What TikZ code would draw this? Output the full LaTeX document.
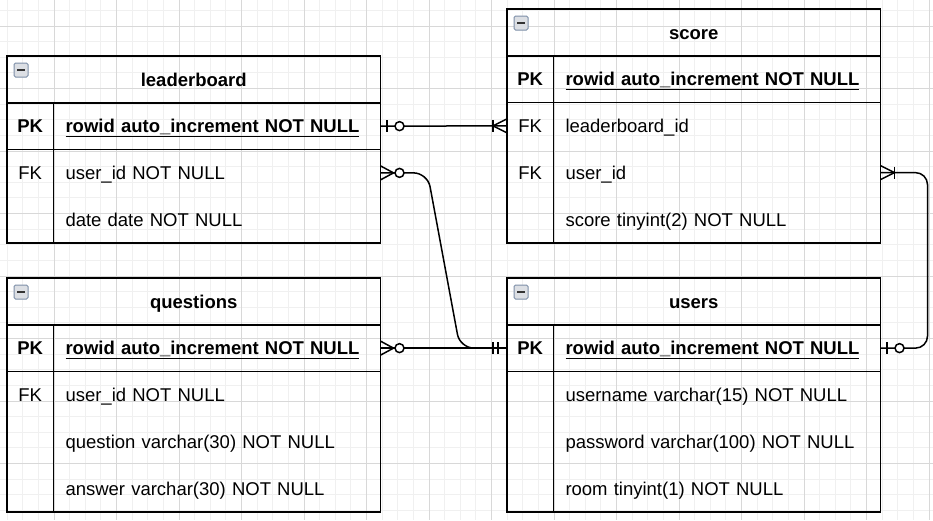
\documentclass[tikz,border=0pt]{standalone}
\usepackage{fontspec}
\setmainfont{Liberation Sans}
\usepackage{tikz}
\usetikzlibrary{positioning}
\usetikzlibrary{calc}
\definecolor{gridminor}{HTML}{F0F0F0}
\definecolor{gridmajor}{HTML}{D8D8D8}
\definecolor{iconedge}{HTML}{7D8FA8}
\definecolor{iconfill}{HTML}{DCDFE4}
\newcommand{\erfont}{\fontsize{18.5pt}{22pt}\selectfont}
\tikzset {
  % table parts
  title/.style = {minimum width=373.5pt, minimum height=46.75pt, inner sep=0pt, outer sep=0pt,
    text height=15.5pt, text depth=2pt, font=\erfont\bfseries},
  key/.style = {minimum width=46.5pt, minimum height=46.75pt, inner sep=0pt, outer sep=0pt,
    text height=15.5pt, text depth=2pt, font=\erfont},
  pkey/.style = {key, font=\erfont\bfseries},
  field/.style = {text width=303pt, inner xsep=12pt, inner ysep=0pt, minimum height=46.75pt,
    outer sep=0pt, align=left, text height=15.5pt, text depth=2pt, font=\erfont},
  pfield/.style = {field, font=\erfont\bfseries},
  tbl/.style = {line width=1.5pt},
  % relations
  rel/.style = {line width=1.5pt},
  zeroone/.pic = {\draw[rel] (6.5,-6) -- (6.5,6); \draw[rel, fill=white] (19,0) circle (4.5);},
  zeromany/.pic = {\draw[rel] (0,-7) -- (13,0) -- (0,7); \draw[rel, fill=white] (19,0) circle (4.5);},
  onemany/.pic = {\draw[rel] (0,-7) -- (14,0) -- (0,7); \draw[rel] (14,-6) -- (14,6);},
  mandone/.pic = {\draw[rel] (9,-6) -- (9,6) (14,-6) -- (14,6);},
  % collapse icon
  minusbox/.pic = {\draw[iconedge, fill=iconfill, line width=1pt, rounded corners=1.5pt] (7,7) rectangle (21,21);
    \draw[line width=2.2pt, black!80] (10,14) -- (18,14);},
}
\begin{document}
\begin{tikzpicture}[x=1pt, y=-1pt]
  \useasboundingbox (0,0) rectangle (933,520);
  \begin{scope}
    \clip (0,0) rectangle (933,520);
    \fill[white] (0,0) rectangle (933,520);
    \foreach \i in {0,...,60} \draw[gridminor, line width=0.8pt] ({-8.5+15.625*\i},0) -- ++(0,520);
    \foreach \j in {0,...,34} \draw[gridminor, line width=0.8pt] (0,{-5.25+15.625*\j}) -- ++(933,0);
    \foreach \i in {0,...,15} \draw[gridmajor, line width=0.8pt] ({-8.5+62.5*\i},0) -- ++(0,520);
    \foreach \j in {0,...,9} \draw[gridmajor, line width=0.8pt] (0,{-36.5+62.5*\j}) -- ++(933,0);
  \end{scope}

  % leaderboard
  \node[title, anchor=north west] (lbh) at (7,56) {leaderboard};
  \node[pkey, below=0pt of lbh.south west, anchor=north west] (lbk1) {PK};
  \node[key, below=0pt of lbk1] (lbk2) {FK};
  \node[key, below=0pt of lbk2] (lbk3) {};
  \node[pfield, right=0pt of lbk1] (lbf1) {\underline{rowid auto\_increment NOT NULL}};
  \node[field, right=0pt of lbk2] (lbf2) {user\_id NOT NULL};
  \node[field, right=0pt of lbk3] (lbf3) {date date NOT NULL};
  \draw[tbl] (lbh.north west) rectangle (lbf3.south east);
  \draw[tbl] (lbh.south west) -- (lbh.south east);
  \draw[tbl] (lbk1.south west) -- (lbf1.south east);
  \draw[tbl] (lbk1.north east) -- (lbk3.south east);
  \pic at (lbh.north west) {minusbox};

  % score
  \node[title, anchor=north west] (sch) at (507,9) {score};
  \node[pkey, below=0pt of sch.south west, anchor=north west] (sck1) {PK};
  \node[key, below=0pt of sck1] (sck2) {FK};
  \node[key, below=0pt of sck2] (sck3) {FK};
  \node[key, below=0pt of sck3] (sck4) {};
  \node[pfield, right=0pt of sck1] (scf1) {\underline{rowid auto\_increment NOT NULL}};
  \node[field, right=0pt of sck2] (scf2) {leaderboard\_id};
  \node[field, right=0pt of sck3] (scf3) {user\_id};
  \node[field, right=0pt of sck4] (scf4) {score tinyint(2) NOT NULL};
  \draw[tbl] (sch.north west) rectangle (scf4.south east);
  \draw[tbl] (sch.south west) -- (sch.south east);
  \draw[tbl] (sck1.south west) -- (scf1.south east);
  \draw[tbl] (sck1.north east) -- (sck4.south east);
  \pic at (sch.north west) {minusbox};

  % questions
  \node[title, anchor=north west] (qsh) at (7,278) {questions};
  \node[pkey, below=0pt of qsh.south west, anchor=north west] (qsk1) {PK};
  \node[key, below=0pt of qsk1] (qsk2) {FK};
  \node[key, below=0pt of qsk2] (qsk3) {};
  \node[key, below=0pt of qsk3] (qsk4) {};
  \node[pfield, right=0pt of qsk1] (qsf1) {\underline{rowid auto\_increment NOT NULL}};
  \node[field, right=0pt of qsk2] (qsf2) {user\_id NOT NULL};
  \node[field, right=0pt of qsk3] (qsf3) {question varchar(30) NOT NULL};
  \node[field, right=0pt of qsk4] (qsf4) {answer varchar(30) NOT NULL};
  \draw[tbl] (qsh.north west) rectangle (qsf4.south east);
  \draw[tbl] (qsh.south west) -- (qsh.south east);
  \draw[tbl] (qsk1.south west) -- (qsf1.south east);
  \draw[tbl] (qsk1.north east) -- (qsk4.south east);
  \pic at (qsh.north west) {minusbox};

  % users
  \node[title, anchor=north west] (ush) at (507,278) {users};
  \node[pkey, below=0pt of ush.south west, anchor=north west] (usk1) {PK};
  \node[key, below=0pt of usk1] (usk2) {};
  \node[key, below=0pt of usk2] (usk3) {};
  \node[key, below=0pt of usk3] (usk4) {};
  \node[pfield, right=0pt of usk1] (usf1) {\underline{rowid auto\_increment NOT NULL}};
  \node[field, right=0pt of usk2] (usf2) {username varchar(15) NOT NULL};
  \node[field, right=0pt of usk3] (usf3) {password varchar(100) NOT NULL};
  \node[field, right=0pt of usk4] (usf4) {room tinyint(1) NOT NULL};
  \draw[tbl] (ush.north west) rectangle (usf4.south east);
  \draw[tbl] (ush.south west) -- (ush.south east);
  \draw[tbl] (usk1.south west) -- (usf1.south east);
  \draw[tbl] (usk1.north east) -- (usk4.south east);
  \pic at (ush.north west) {minusbox};

  % relations
  \draw[rel] (lbf1.east) -- (sck2.west);
  \pic at (lbf1.east) {zeroone};
  \pic[rotate=180] at (sck2.west) {onemany};

  \draw[rel, rounded corners=14pt] (lbf2.east) -- ++(47,0) -- ($(usk1.west)+(-47,0)$) -- (usk1.west);
  \pic at (lbf2.east) {zeromany};
  \pic[rotate=180] at (usk1.west) {mandone};

  \draw[rel] (qsf1.east) -- (usk1.west);
  \pic at (qsf1.east) {zeromany};

  \draw[rel, rounded corners=12pt] (scf3.east) -- ++(47,0) |- (usf1.east);
  \pic at (scf3.east) {onemany};
  \pic at (usf1.east) {zeroone};
\end{tikzpicture}
\end{document}
